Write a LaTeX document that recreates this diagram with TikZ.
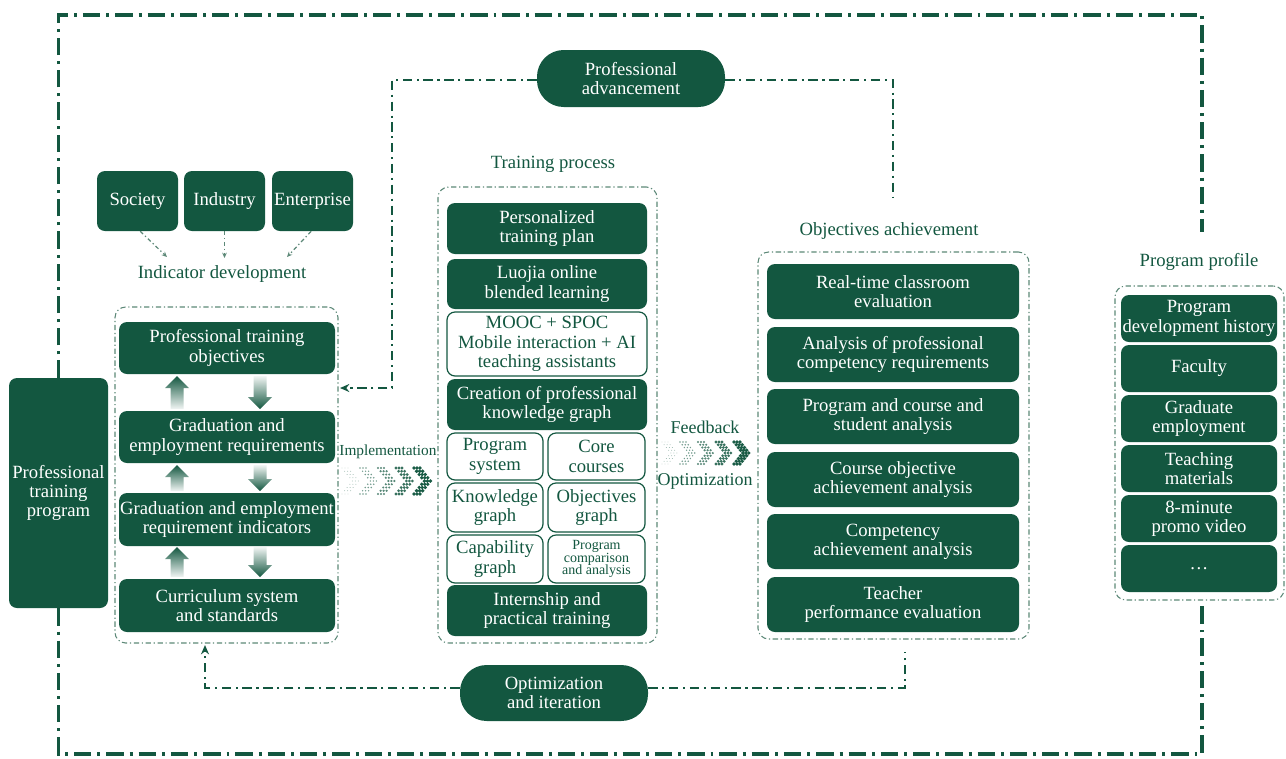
\documentclass[tikz,border=0pt]{standalone}
\usepackage{fontspec}
\setmainfont{Liberation Serif}
\usetikzlibrary{arrows.meta}
\definecolor{dg}{RGB}{19,87,64}
\definecolor{dgl}{RGB}{92,136,119}
\newcommand\mf{\fontsize{14}{14.5}\selectfont}
\newcommand\smallbox{\fontsize{10.5}{9.6}\selectfont}
% shaded block arrows between the objective boxes
\newcommand\garrowup[3]{%
  \shade[top color=dg, bottom color=dg!6] (#1-6.5,#2) -- (#1-6.5,#3+12) -- (#1-12,#3+12) -- (#1,#3)
    -- (#1+12,#3+12) -- (#1+6.5,#3+12) -- (#1+6.5,#2) -- cycle;}
\newcommand\garrowdn[3]{%
  \shade[top color=dg!6, bottom color=dg] (#1-6.5,#2) -- (#1-6.5,#3-12) -- (#1-12,#3-12) -- (#1,#3)
    -- (#1+12,#3-12) -- (#1+6.5,#3-12) -- (#1+6.5,#2) -- cycle;}
% halftone chevrons: x of first chevron, centre y, half height
\newcommand\halftone[3]{%
  \foreach \k in {0,...,4}{
    \foreach \dy in {-4,...,4}{
      \foreach \t in {0,1,2}{
        \fill[dg, opacity={0.45+\k*0.13}] ({#1+\k*18+(4-abs(\dy))*#3/4*0.8+\t*3},{#2+\dy*#3/4})
          circle[radius={0.35pt+\k*0.27pt}];
      }}}}
\begin{document}
\begin{tikzpicture}[x=0.75pt,y=-0.75pt,
  % a box given by its left, top, right and bottom edges
  spanbox/.style n args={4}{at={({(#1+#3)/2},{(#2+#4)/2})}, anchor=center,
     minimum width={0.75pt*(#3-#1)}, minimum height={0.75pt*(#4-#2)}},
  fbox/.style={fill=dg, draw=none, rounded corners=6pt, text=white, align=center, font=\mf, inner sep=0pt},
  obox/.style={fill=white, draw=dg, line width=0.9pt, rounded corners=6pt, text=dg, align=center, font=\mf, inner sep=0pt},
  pill/.style={fill=dg, draw=none, rounded corners=20pt, text=white, align=center, font=\mf, inner sep=0pt},
  cont/.style={draw=dgl, line width=0.8pt, dash pattern=on 4pt off 2pt on 0.9pt off 2pt, rounded corners=8pt, inner sep=0pt},
  loopline/.style={draw=dg, line width=2.3pt, dash pattern=on 13pt off 4.5pt on 2.2pt off 4.5pt},
  conn/.style={draw=dg, line width=1.6pt, dash pattern=on 7pt off 3.5pt on 1.6pt off 3.5pt},
  indarr/.style={draw=dgl, line width=0.9pt, dash pattern=on 3pt off 2pt on 1pt off 2pt},
  lbl/.style={text=dg, font=\mf, inner sep=0pt},
]
\useasboundingbox (0,0) rectangle (1286,758);

% left program block
\node[fbox, spanbox={9}{378}{108}{608}] (ptp) {Professional\\training\\program};

% indicator sources
\node[fbox, spanbox={97}{171}{178}{231}] (soc) {Society};
\node[fbox, spanbox={184}{171}{265}{231}] (ind) {Industry};
\node[fbox, spanbox={272}{171}{353}{231}] (ent) {Enterprise};
\node[lbl] (indlab) at (222,274) {Indicator development};
\draw[indarr,-{Stealth[length=4pt,width=3.5pt]}] ([xshift=2pt]soc.south) -- (167,257);
\draw[indarr,-{Stealth[length=4pt,width=3.5pt]}] (ind.south) -- (224.5,258);
\draw[indarr,-{Stealth[length=4pt,width=3.5pt]}] ([xshift=-1pt]ent.south) -- (287,257);

% objectives column
\node[cont, spanbox={115}{307}{338}{643}] (lc) {};
\node[fbox, spanbox={119}{322}{335}{374}] (lo1) {Professional training\\objectives};
\node[fbox, spanbox={119}{411}{335}{463}] (lo2) {Graduation and\\employment requirements};
\node[fbox, spanbox={119}{493}{335}{546}] (lo3) {Graduation and employment\\requirement indicators};
\node[fbox, spanbox={119}{579}{335}{632}] (lo4) {Curriculum system\\and standards};
\garrowup{177}{409}{376}
\garrowdn{260}{376}{409}
\garrowup{177}{491}{465}
\garrowdn{260}{465}{491}
\garrowup{177}{577}{547}
\garrowdn{260}{547}{577}

% implementation
\node[lbl, font=\fontsize{11.5}{12}\selectfont] (implab) at (388,452) {Implementation};
\halftone{342}{481}{13}

% training process column
\node[lbl] (tplab) at (553,164) {Training process};
\node[cont, spanbox={438}{187}{657}{643}] (tc) {};
\node[fbox, spanbox={447}{203}{647}{254}] (t1) {Personalized\\training plan};
\node[fbox, spanbox={447}{259}{647}{309}] (t2) {Luojia online\\blended learning};
\node[obox, spanbox={447}{312}{647}{376}] (t3) {MOOC + SPOC\\Mobile interaction + AI\\teaching assistants};
\node[fbox, spanbox={447}{379}{647}{430}] (t4) {Creation of professional\\knowledge graph};
\node[obox, spanbox={447}{433}{543}{480}] (g11) {Program\\system};
\node[obox, spanbox={548}{433}{645}{480}] (g12) {Core\\courses};
\node[obox, spanbox={447}{483}{543}{532}] (g21) {Knowledge\\graph};
\node[obox, spanbox={548}{483}{645}{532}] (g22) {Objectives\\graph};
\node[obox, spanbox={447}{535}{543}{583}] (g31) {Capability\\graph};
\node[obox, font=\smallbox, spanbox={548}{535}{645}{583}] (g32) {Program\\comparison\\and analysis};
\node[fbox, spanbox={447}{585}{647}{636}] (t5) {Internship and\\practical training};

% feedback
\node[lbl, font=\fontsize{13.5}{14}\selectfont] (fblab) at (705,427) {Feedback};
\halftone{662}{453}{11}
\node[lbl, font=\fontsize{13.5}{14}\selectfont] (oplab) at (705,481) {Optimization};

% objectives achievement column
\node[lbl] (oalab) at (889,231) {Objectives achievement};
\node[cont, spanbox={758}{252}{1029}{639}] (oc) {};
\node[fbox, spanbox={767}{264}{1019}{319}] (o1) {Real-time classroom\\evaluation};
\node[fbox, spanbox={767}{327}{1019}{382}] (o2) {Analysis of professional\\competency requirements};
\node[fbox, spanbox={767}{389}{1019}{444}] (o3) {Program and course and\\student analysis};
\node[fbox, spanbox={767}{452}{1019}{507}] (o4) {Course objective\\achievement analysis};
\node[fbox, spanbox={767}{514}{1019}{569}] (o5) {Competency\\achievement analysis};
\node[fbox, spanbox={767}{577}{1019}{632}] (o6) {Teacher\\performance evaluation};

% program profile column
\node[lbl] (pplab) at (1199,262) {Program profile};
\node[cont, spanbox={1115}{286}{1284}{600}] (pc) {};
\node[fbox, spanbox={1121}{295}{1277}{342}] (p1) {Program\\development history};
\node[fbox, spanbox={1121}{345}{1277}{392}] (p2) {Faculty};
\node[fbox, spanbox={1121}{395}{1277}{442}] (p3) {Graduate\\employment};
\node[fbox, spanbox={1121}{445}{1277}{492}] (p4) {Teaching\\materials};
\node[fbox, spanbox={1121}{495}{1277}{542}] (p5) {8-minute\\promo video};
\node[fbox, spanbox={1121}{545}{1277}{592}] (p6) {\dots};

% pills
\node[pill, spanbox={537}{50}{725}{107}] (pa) {Professional\\advancement};
\node[pill, spanbox={460}{665}{648}{721}] (oi) {Optimization\\and iteration};

% free ends of the loops
\coordinate (advin) at (340,388);
\coordinate (paend) at (893,197);
\coordinate (oiend1) at (205,645);
\coordinate (oiend2) at (905,652);
\coordinate (loopend1) at (1202,232);
\coordinate (loopend2) at (1202,604);

% advancement and iteration loops
\draw[conn,-{Stealth[length=7pt,width=6pt]}] ([yshift=-1pt]pa.west) -| (392,388) -- (advin);
\draw[conn] ([yshift=-1pt]pa.east) -| (paend);
\draw[conn,-{Stealth[length=7pt,width=6pt]}] ([yshift=4pt]oi.west) -| (oiend1);
\draw[conn] ([yshift=4pt]oi.east) -| (oiend2);

% outer loop
\draw[loopline] (ptp.north) |- (1202,15) -- (loopend1);
\draw[loopline] (ptp.south) |- (1202,754) -- (loopend2);
\end{tikzpicture}
\end{document}
